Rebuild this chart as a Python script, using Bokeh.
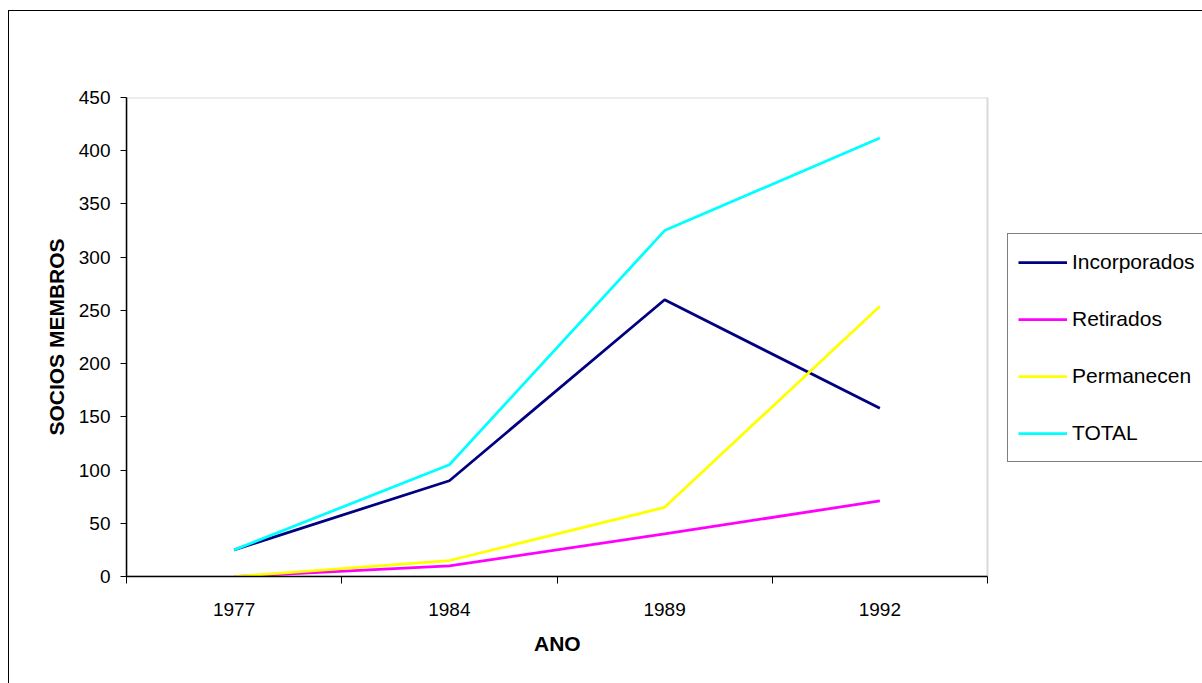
from bokeh.plotting import figure
from bokeh.models import (FixedTicker, Legend, LegendItem, Range1d, InlineStyleSheet,
                          BoxAnnotation, Title)
from bokeh.embed import file_html
from bokeh.resources import INLINE

years = ["1977", "1984", "1989", "1992"]
incorporados = [25, 90, 260, 158]
retirados = [0, 10, 40, 71]
permanecen = [0, 15, 65, 254]
total = [25, 105, 325, 412]
y_ticks = list(range(0, 451, 50))

series = [
    ("Incorporados", incorporados, "#000080"),
    ("Retirados", retirados, "#FF00FF"),
    ("Permanecen", permanecen, "#FFFF00"),
    ("TOTAL", total, "#00FFFF"),
]

n = len(years)
xs = [i + 0.5 for i in range(n)]

W, H = 1202, 683
FL, FR, FT, FB = 126, 987, 97, 576
ymax = y_ticks[-1]

# frame extends to the right edge so the legend (drawn inside the frame) is not clipped
x_end = n * (W - FL) / (FR - FL)

p = figure(width=W, height=H, output_backend="svg", toolbar_location=None,
           x_range=Range1d(0, x_end), y_range=Range1d(0, ymax),
           min_border_left=FL, min_border_right=0,
           min_border_top=FT, min_border_bottom=H - FB)
p.background_fill_color = "white"
p.border_fill_color = "white"
p.outline_line_color = None
p.xgrid.visible = False
p.ygrid.visible = False

# plot-area border (grey top/right), drawn under the axes
area = BoxAnnotation(left=0, right=n, bottom=0, top=ymax, fill_alpha=0,
                     line_color="#808080", line_width=2, level="underlay")
p.add_layout(area)

font = "Liberation Sans"

# x axis
p.xaxis.bounds = (0, n)
p.xaxis.ticker = FixedTicker(ticks=xs, minor_ticks=list(range(n + 1)))
p.xaxis.major_label_overrides = {x: y for x, y in zip(xs, years)}
p.xaxis.major_tick_out = 0
p.xaxis.major_tick_in = 0
p.xaxis.minor_tick_out = 7
p.xaxis.minor_tick_in = 0
p.xaxis.minor_tick_line_color = "black"
p.xaxis.axis_line_color = "black"
p.xaxis.axis_line_width = 1.5
p.xaxis.major_label_standoff = 19

# y axis
p.yaxis.ticker = FixedTicker(ticks=y_ticks, minor_ticks=[])
p.yaxis.major_tick_out = 6
p.yaxis.major_tick_in = 0
p.yaxis.major_tick_line_color = "black"
p.yaxis.axis_line_color = "black"
p.yaxis.axis_line_width = 1.5
p.yaxis.major_label_standoff = 10
p.yaxis.axis_label = "SOCIOS MEMBROS"
p.yaxis.axis_label_standoff = 8

for ax in (p.xaxis, p.yaxis):
    ax.major_label_text_font = font
    ax.major_label_text_font_size = "19px"
    ax.major_label_text_color = "black"
    ax.axis_label_text_font = font
    ax.axis_label_text_font_size = "21px"
    ax.axis_label_text_font_style = "bold"
    ax.axis_label_text_color = "black"

# x-axis title, centred under the plot area (not the wider frame)
xtitle = Title(text="ANO", align="left", offset=(FR - FL) / 2 - 23,
               text_font=font, text_font_size="21px", text_font_style="bold",
               text_color="black", standoff=23)
p.add_layout(xtitle, "below")

items = []
for name, vals, color in series:
    r = p.line(xs, vals, line_color=color, line_width=2.75)
    items.append(LegendItem(label=name, renderers=[r]))

legend = Legend(items=items, location=(1007 - FL, FB - 462))
legend.border_line_color = "black"
legend.border_line_width = 1
legend.background_fill_color = "white"
legend.background_fill_alpha = 1
legend.padding = 10
legend.margin = 0
legend.glyph_width = 49
legend.glyph_height = 36
legend.label_height = 36
legend.spacing = 21
legend.label_standoff = 5
legend.label_text_font = font
legend.label_text_font_size = "21px"
legend.label_text_color = "black"
legend.label_text_baseline = "middle"
p.add_layout(legend, "center")

p.stylesheets = [InlineStyleSheet(css=(
    ":host::after { content: ''; position: absolute; left: 8px; top: 10px; "
    "right: 0; bottom: 0; border-left: 1px solid black; border-top: 1px solid black; "
    "pointer-events: none; }"
))]

open("out.html", "w").write(file_html(p, INLINE))
